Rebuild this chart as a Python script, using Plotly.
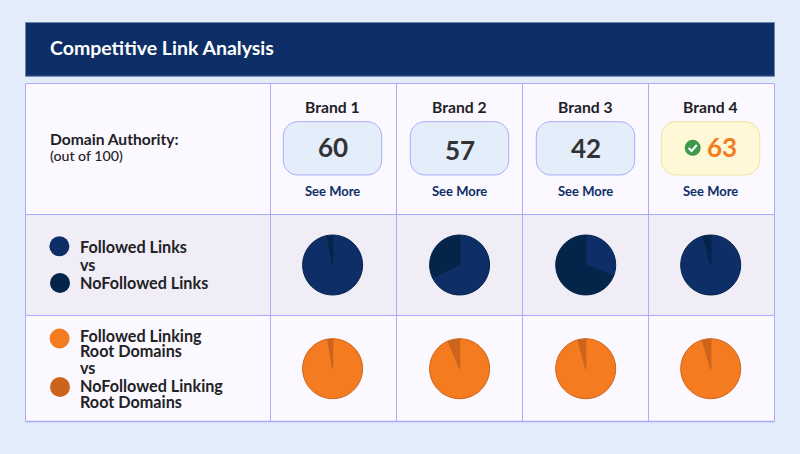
import plotly.graph_objects as go

title = "Competitive Link Analysis"
brands = ["Brand 1", "Brand 2", "Brand 3", "Brand 4"]
domain_authority = [60, 57, 42, 63]
followed_links = [97, 68, 31, 96]
nofollowed_links = [3, 32, 69, 4]
followed_domains = [97.4, 93.8, 95.8, 95.5]
nofollowed_domains = [2.6, 6.2, 4.2, 4.5]

W, H = 800, 454
BG = "#E3EDF9"
NAVY = "#0D2E66"
NAVY_DARK = "#05244A"
ORANGE = "#F47B20"
ORANGE_DARK = "#CC641C"
CELL = "#FBF9FF"
SHADE = "#F0EDF7"
BORDER = "#A9ABFB"
TEXT = "#222226"
FONT = "Lato"

col_x = [270.5, 396.5, 522.5, 648.5, 774.5]
left_x = 25.5
row_y = [83.5, 214.5, 315.5, 421.5]
col_c = [332.6, 459.6, 585.7, 710.7]
box_l = [283.3, 410.3, 536.3, 661.3]
box_w, box_top, box_bot, box_r = 98.4, 121.7, 175.0, 14.5
pie_r = 30.0
pie_y = [265.0, 368.7]
number_y = [147, 150, 148, 147]


def px(x):
    return x / W


def py(y):
    return 1 - y / H


shapes = []


def rect(x0, y0, x1, y1, fill, line=None, lw=1):
    shapes.append(dict(type="rect", xref="paper", yref="paper", x0=px(x0), x1=px(x1),
                       y0=py(y1), y1=py(y0), fillcolor=fill,
                       line=dict(color=line or fill, width=lw if line else 0), layer="below"))


def circle(cx, cy, r, fill):
    shapes.append(dict(type="circle", xref="paper", yref="paper", x0=px(cx - r), x1=px(cx + r),
                       y0=py(cy + r), y1=py(cy - r), fillcolor=fill,
                       line=dict(color=fill, width=0), layer="below"))


def rounded(x0, y0, x1, y1, r, fill, line):
    k = 0.45 * r
    X = lambda v: f"{px(v):.5f}"
    Y = lambda v: f"{py(v):.5f}"
    d = (f"M{X(x0 + r)},{Y(y0)} L{X(x1 - r)},{Y(y0)} "
         f"C{X(x1 - k)},{Y(y0)} {X(x1)},{Y(y0 + k)} {X(x1)},{Y(y0 + r)} "
         f"L{X(x1)},{Y(y1 - r)} C{X(x1)},{Y(y1 - k)} {X(x1 - k)},{Y(y1)} {X(x1 - r)},{Y(y1)} "
         f"L{X(x0 + r)},{Y(y1)} C{X(x0 + k)},{Y(y1)} {X(x0)},{Y(y1 - k)} {X(x0)},{Y(y1 - r)} "
         f"L{X(x0)},{Y(y0 + r)} C{X(x0)},{Y(y0 + k)} {X(x0 + k)},{Y(y0)} {X(x0 + r)},{Y(y0)} Z")
    shapes.append(dict(type="path", xref="paper", yref="paper", path=d, fillcolor=fill,
                       line=dict(color=line, width=1), layer="below"))


annotations = []


def label(x, y, s, size, color=TEXT, weight=700, anchor="left"):
    # annotations pad their text by about 2px, so left-anchored labels start 2px earlier
    ax = x - 2 if anchor == "left" else x
    annotations.append(dict(xref="paper", yref="paper", x=px(ax), y=py(y), text=s, showarrow=False,
                            xanchor=anchor, yanchor="middle", align=anchor,
                            font=dict(family=FONT, size=size, color=color, weight=weight)))


# header band and table body
rect(left_x, 22.5, 774.5, 76.3, NAVY, "#6F86AD", 1)
rect(left_x, row_y[0], 774.5, row_y[1], CELL)
rect(left_x, row_y[1], 774.5, row_y[2], SHADE)
rect(left_x, row_y[2], 774.5, row_y[3], CELL)
for y in row_y:
    lw = 1.6 if y == row_y[-1] else 1
    shapes.append(dict(type="line", xref="paper", yref="paper", x0=px(left_x), x1=px(774.5),
                       y0=py(y), y1=py(y), line=dict(color=BORDER, width=lw), layer="below"))
for x in [left_x] + col_x:
    shapes.append(dict(type="line", xref="paper", yref="paper", x0=px(x), x1=px(x),
                       y0=py(row_y[0]), y1=py(row_y[3]), line=dict(color=BORDER, width=1), layer="below"))

label(50, 47.5, title, 19.5, "#FFFFFF", 700)
label(50, 138.5, "Domain Authority:", 15.6, TEXT, 700)
label(50, 155.5, "(out of 100)", 14.2, TEXT, 500)

best = domain_authority.index(max(domain_authority))
for i, b in enumerate(brands):
    label(col_c[i], 106.5, b, 15.7, TEXT, 700, "center")
    label(col_c[i], 190.5, "See More", 13, NAVY, 700, "center")
    if i == best:
        rounded(box_l[i], box_top, box_l[i] + box_w, box_bot, box_r, "#FFF8D6", "#EFE0A0")
        label(col_c[i] + 11, number_y[i], str(domain_authority[i]), 26, ORANGE, 700, "center")
        circle(692.7, 147.8, 8, "#3E9A4A")
        X = lambda v: f"{px(v):.5f}"
        Y = lambda v: f"{py(v):.5f}"
        shapes.append(dict(type="path", xref="paper", yref="paper", layer="above",
                           path=f"M{X(688.6)},{Y(148)} L{X(691.6)},{Y(151)} L{X(696.8)},{Y(145)}",
                           line=dict(color="#FFFFFF", width=2)))
    else:
        rounded(box_l[i], box_top, box_l[i] + box_w, box_bot, box_r, "#E3EEFA", BORDER)
        label(col_c[i], number_y[i], str(domain_authority[i]), 26, "#333336", 700, "center")

circle(59.4, 246.3, 10, NAVY)
circle(60, 283, 10, NAVY_DARK)
circle(59.6, 338.5, 10, ORANGE)
circle(60, 387, 10, ORANGE_DARK)
LS = 16.2
label(80, 246.5, "Followed Links", LS)
label(80, 264.5, "vs", LS)
label(80, 282.5, "NoFollowed Links", LS)
label(80, 335.5, "Followed Linking", LS)
label(80, 350, "Root Domains", LS)
label(80, 367.5, "vs", LS)
label(80, 385.5, "NoFollowed Linking", LS)
label(80, 401.5, "Root Domains", LS)

fig = go.Figure()
series = [(followed_links, nofollowed_links, NAVY, NAVY_DARK, pie_y[0]),
          (followed_domains, nofollowed_domains, ORANGE, ORANGE_DARK, pie_y[1])]
for main, other, c1, c2, cy in series:
    for i, b in enumerate(brands):
        fig.add_trace(go.Pie(
            labels=["Followed", "NoFollowed"], values=[main[i], other[i]],
            sort=False, direction="clockwise", rotation=0, textinfo="none", hoverinfo="label+value",
            marker=dict(colors=[c1, c2], line=dict(color=c2, width=1)),
            domain=dict(x=[px(col_c[i] - pie_r), px(col_c[i] + pie_r)],
                        y=[py(cy + pie_r), py(cy - pie_r)]),
            showlegend=False, name=b))

fig.update_layout(width=W, height=H, margin=dict(l=0, r=0, t=0, b=0), paper_bgcolor=BG,
                  plot_bgcolor=BG, shapes=shapes, annotations=annotations, showlegend=False)
fig.write_html("out.html", config=dict(displayModeBar=False),
               post_script="document.body.style.margin='0';document.body.style.background='#E3EDF9';")
